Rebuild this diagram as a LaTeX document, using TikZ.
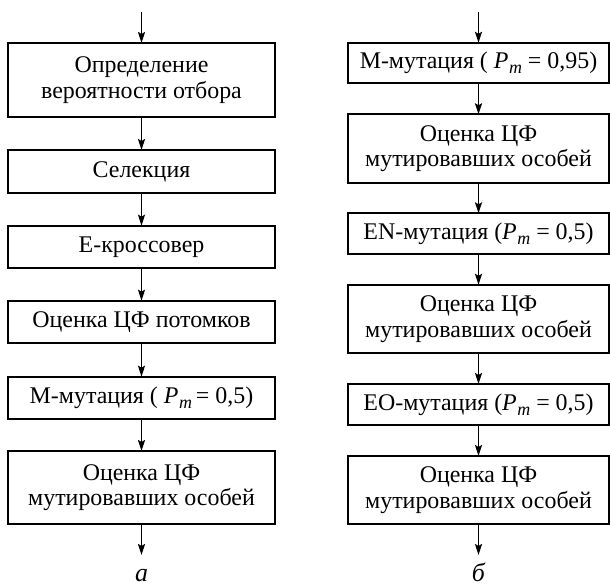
\documentclass[tikz,border=0pt]{standalone}
\usepackage{fontspec}
\setmainfont{Liberation Serif}
\usetikzlibrary{arrows.meta}
\newcommand{\Pm}{\textit{P}\kern0.5pt\raisebox{-0.22em}{\fontsize{18}{18}\selectfont\textit{m}}}
\begin{document}
\begin{tikzpicture}[x=1bp,y=-1bp,
  fbox/.style={draw, line width=1.9bp, inner sep=0pt, outer sep=0pt, align=center,
     font=\fontsize{24}{25.5}\selectfont},
  lbox/.style={fbox, minimum width=267bp},
  rbox/.style={fbox, minimum width=261bp},
  arr/.style={-{Stealth[length=11bp,width=7bp,inset=2bp]}, line width=1.7bp},
  sublabel/.style={font=\fontsize{26}{26}\selectfont\itshape, inner sep=0pt, anchor=base}]
\useasboundingbox (0,0) rectangle (610,586);
% left column
\coordinate (ltop) at (141.5,12);
\node[lbox, minimum height=74bp] (l1) at (141.5,80) {Определение\\вероятности отбора};
\node[lbox, minimum height=43bp] (l2) at (141.5,171.5) {Селекция};
\node[lbox, minimum height=42.6bp] (l3) at (141.5,247) {Е-кроссовер};
\node[lbox, minimum height=42.6bp] (l4) at (141.5,322) {Оценка ЦФ потомков};
\node[lbox, minimum height=42.6bp] (l5) at (141.5,398) {М-мутация ( \Pm\,= 0,5)};
\node[lbox, minimum height=73bp] (l6) at (141.5,487.5) {Оценка ЦФ\\мутировавших особей};
\coordinate (lbot) at (141.5,555);
\node[sublabel] (la) at (141.5,581) {а};
\draw[arr] (ltop) -- (l1);
\draw[arr] (l1) -- (l2);
\draw[arr] (l2) -- (l3);
\draw[arr] (l3) -- (l4);
\draw[arr] (l4) -- (l5);
\draw[arr] (l5) -- (l6);
\draw[arr] (l6) -- (lbot);
% right column
\coordinate (rtop) at (478.5,12);
\node[rbox, minimum height=40.3bp] (r1) at (478.5,63) {М-мутация ( \Pm\ = 0,95)};
\node[rbox, minimum height=68.4bp] (r2) at (478.5,148.5) {Оценка ЦФ\\мутировавших особей};
\node[rbox, minimum height=40.7bp] (r3) at (478.5,233.7) {EN-мутация (\Pm\ = 0,5)};
\node[rbox, minimum height=68.3bp] (r4) at (478.5,319) {Оценка ЦФ\\мутировавших особей};
\node[rbox, minimum height=41bp] (r5) at (478.5,404.5) {EO-мутация (\Pm\ = 0,5)};
\node[rbox, minimum height=68bp] (r6) at (478.5,490) {Оценка ЦФ\\мутировавших особей};
\coordinate (rbot) at (478.5,555);
\node[sublabel] (rb) at (478.5,581) {б};
\draw[arr] (rtop) -- (r1);
\draw[arr] (r1) -- (r2);
\draw[arr] (r2) -- (r3);
\draw[arr] (r3) -- (r4);
\draw[arr] (r4) -- (r5);
\draw[arr] (r5) -- (r6);
\draw[arr] (r6) -- (rbot);
\end{tikzpicture}
\end{document}
